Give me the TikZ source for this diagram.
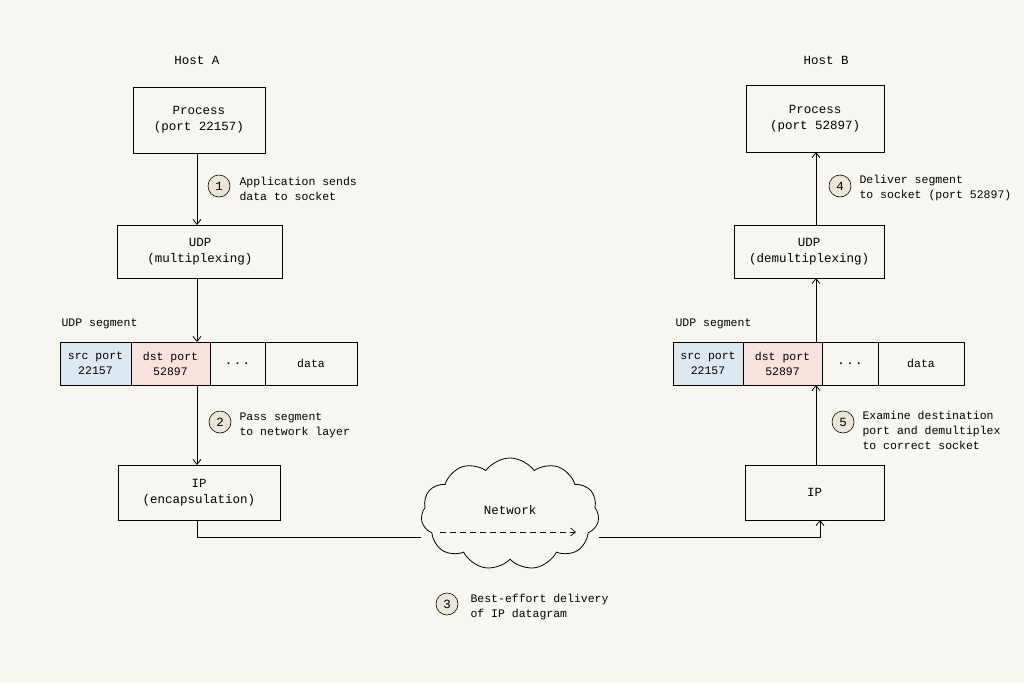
\documentclass[tikz,border=0pt]{standalone}
\usepackage{fontspec}
\setmainfont{Liberation Mono}
\usetikzlibrary{shapes.symbols,arrows.meta}
\definecolor{bg}{HTML}{F8F6F1}
\definecolor{cfill}{HTML}{ECE6DA}
\definecolor{blu}{HTML}{DEE8F0}
\definecolor{pnk}{HTML}{F9E1DD}
\newcommand{\bt}{\fontsize{12.5}{16}\selectfont}
\newcommand{\ct}{\fontsize{11.5}{15}\selectfont}
\newcommand{\lt}{\fontsize{11.5}{15}\selectfont}
\begin{document}
\begin{tikzpicture}[x=1pt,y=-1pt,
  box/.style={draw,line width=0.8pt,fill=bg,align=center,font=\bt,inner sep=0pt},
  cell/.style={draw,line width=0.8pt,align=center,font=\ct,inner sep=0pt},
  num/.style={circle,draw,line width=0.6pt,fill=cfill,minimum size=22pt,inner sep=0pt,font=\bt},
  lab/.style={anchor=west,align=left,font=\lt},
  arr/.style={-{Straight Barb[length=5pt,width=8pt]},line width=0.8pt}]
\fill[bg] (0,0) rectangle (1024,683);
\useasboundingbox (0,0) rectangle (1024,683);
% Host A
\node[font=\bt] (ha) at (197,60) {Host A};
\node[box,minimum width=132pt,minimum height=66pt] (pa) at (199,120) {Process\\(port 22157)};
\node[box,minimum width=165pt,minimum height=53pt] (ua) at (200,251.5) {UDP\\(multiplexing)};
\node[font=\ct,anchor=west] (sla) at (58,324) {UDP segment};
\node[cell,fill=blu,minimum width=71pt,minimum height=43pt] (a1) at (95.5,363.5) {src port\\22157};
\node[cell,fill=pnk,minimum width=79pt,minimum height=43pt] (a2) at (170.5,363.5) {dst port\\52897};
\node[cell,minimum width=55pt,minimum height=43pt,font=\bfseries\ct] (a3) at (237.5,363.5) {.\,.\,.};
\node[cell,minimum width=92pt,minimum height=43pt] (a4) at (311,363.5) {data};
\node[box,minimum width=162pt,minimum height=55pt] (ia) at (199,492.5) {IP\\(encapsulation)};
\coordinate (pa1) at (197,153); \coordinate (ua0) at (197,225);
\coordinate (ua1) at (197,278); \coordinate (sa0) at (197,342);
\coordinate (sa1) at (197,385); \coordinate (ia0) at (197,465);
\draw[arr] (pa1) -- (ua0);
\draw[arr] (ua1) -- (sa0);
\draw[arr] (sa1) -- (ia0);
\node[num] (n1) at (219,186) {1};
\node[lab] (t1) at (236,189) {Application sends\\data to socket};
\node[num] (n2) at (220,422) {2};
\node[lab] (t2) at (236,425) {Pass segment\\to network layer};
% Network
\node[cloud,draw,line width=0.8pt,fill=bg,cloud puffs=11,cloud puff arc=110,aspect=1.9,minimum width=178pt,minimum height=112pt] (cl) at (510,514) {};
\node[font=\bt] (nw) at (510,510) {Network};
\coordinate (d0) at (440,532); \coordinate (d1) at (576,532);
\draw[arr,dashed,dash pattern=on 6pt off 4pt,line width=0.7pt] (d0) -- (d1);
\coordinate (ib0) at (820,520);
\draw[line width=0.8pt] (ia.south -| 197,0) |- (cl.west |- 0,537);
\draw[arr] (cl.east |- 0,537) -| (ib0);
\node[num] (n3) at (447,604) {3};
\node[lab] (t3) at (467,607) {Best-effort delivery\\of IP datagram};
% Host B
\node[font=\bt] (hb) at (826,60) {Host B};
\node[box,minimum width=138pt,minimum height=67pt] (pb) at (815,118.5) {Process\\(port 52897)};
\node[box,minimum width=150pt,minimum height=53pt] (ub) at (809,251.5) {UDP\\(demultiplexing)};
\node[font=\ct,anchor=west] (slb) at (672,324) {UDP segment};
\node[cell,fill=blu,minimum width=70pt,minimum height=43pt] (b1) at (708,363.5) {src port\\22157};
\node[cell,fill=pnk,minimum width=79pt,minimum height=43pt] (b2) at (782.5,363.5) {dst port\\52897};
\node[cell,minimum width=56pt,minimum height=43pt,font=\bfseries\ct] (b3) at (850,363.5) {.\,.\,.};
\node[cell,minimum width=86pt,minimum height=43pt] (b4) at (921,363.5) {data};
\node[box,minimum width=139pt,minimum height=55pt] (ib) at (814.5,492.5) {IP};
\coordinate (ib1) at (816,465); \coordinate (sb1) at (816,385);
\coordinate (sb0) at (816,342); \coordinate (ub1) at (816,278);
\coordinate (ub0) at (816,225); \coordinate (pb1) at (816,152);
\draw[arr] (ib1) -- (sb1);
\draw[arr] (sb0) -- (ub1);
\draw[arr] (ub0) -- (pb1);
\node[num] (n4) at (840,186) {4};
\node[lab] (t4) at (856,188.5) {Deliver segment\\to socket (port 52897)};
\node[num] (n5) at (843,422) {5};
\node[lab] (t5) at (859,430) {Examine destination\\port and demultiplex\\to correct socket};
\end{tikzpicture}
\end{document}
